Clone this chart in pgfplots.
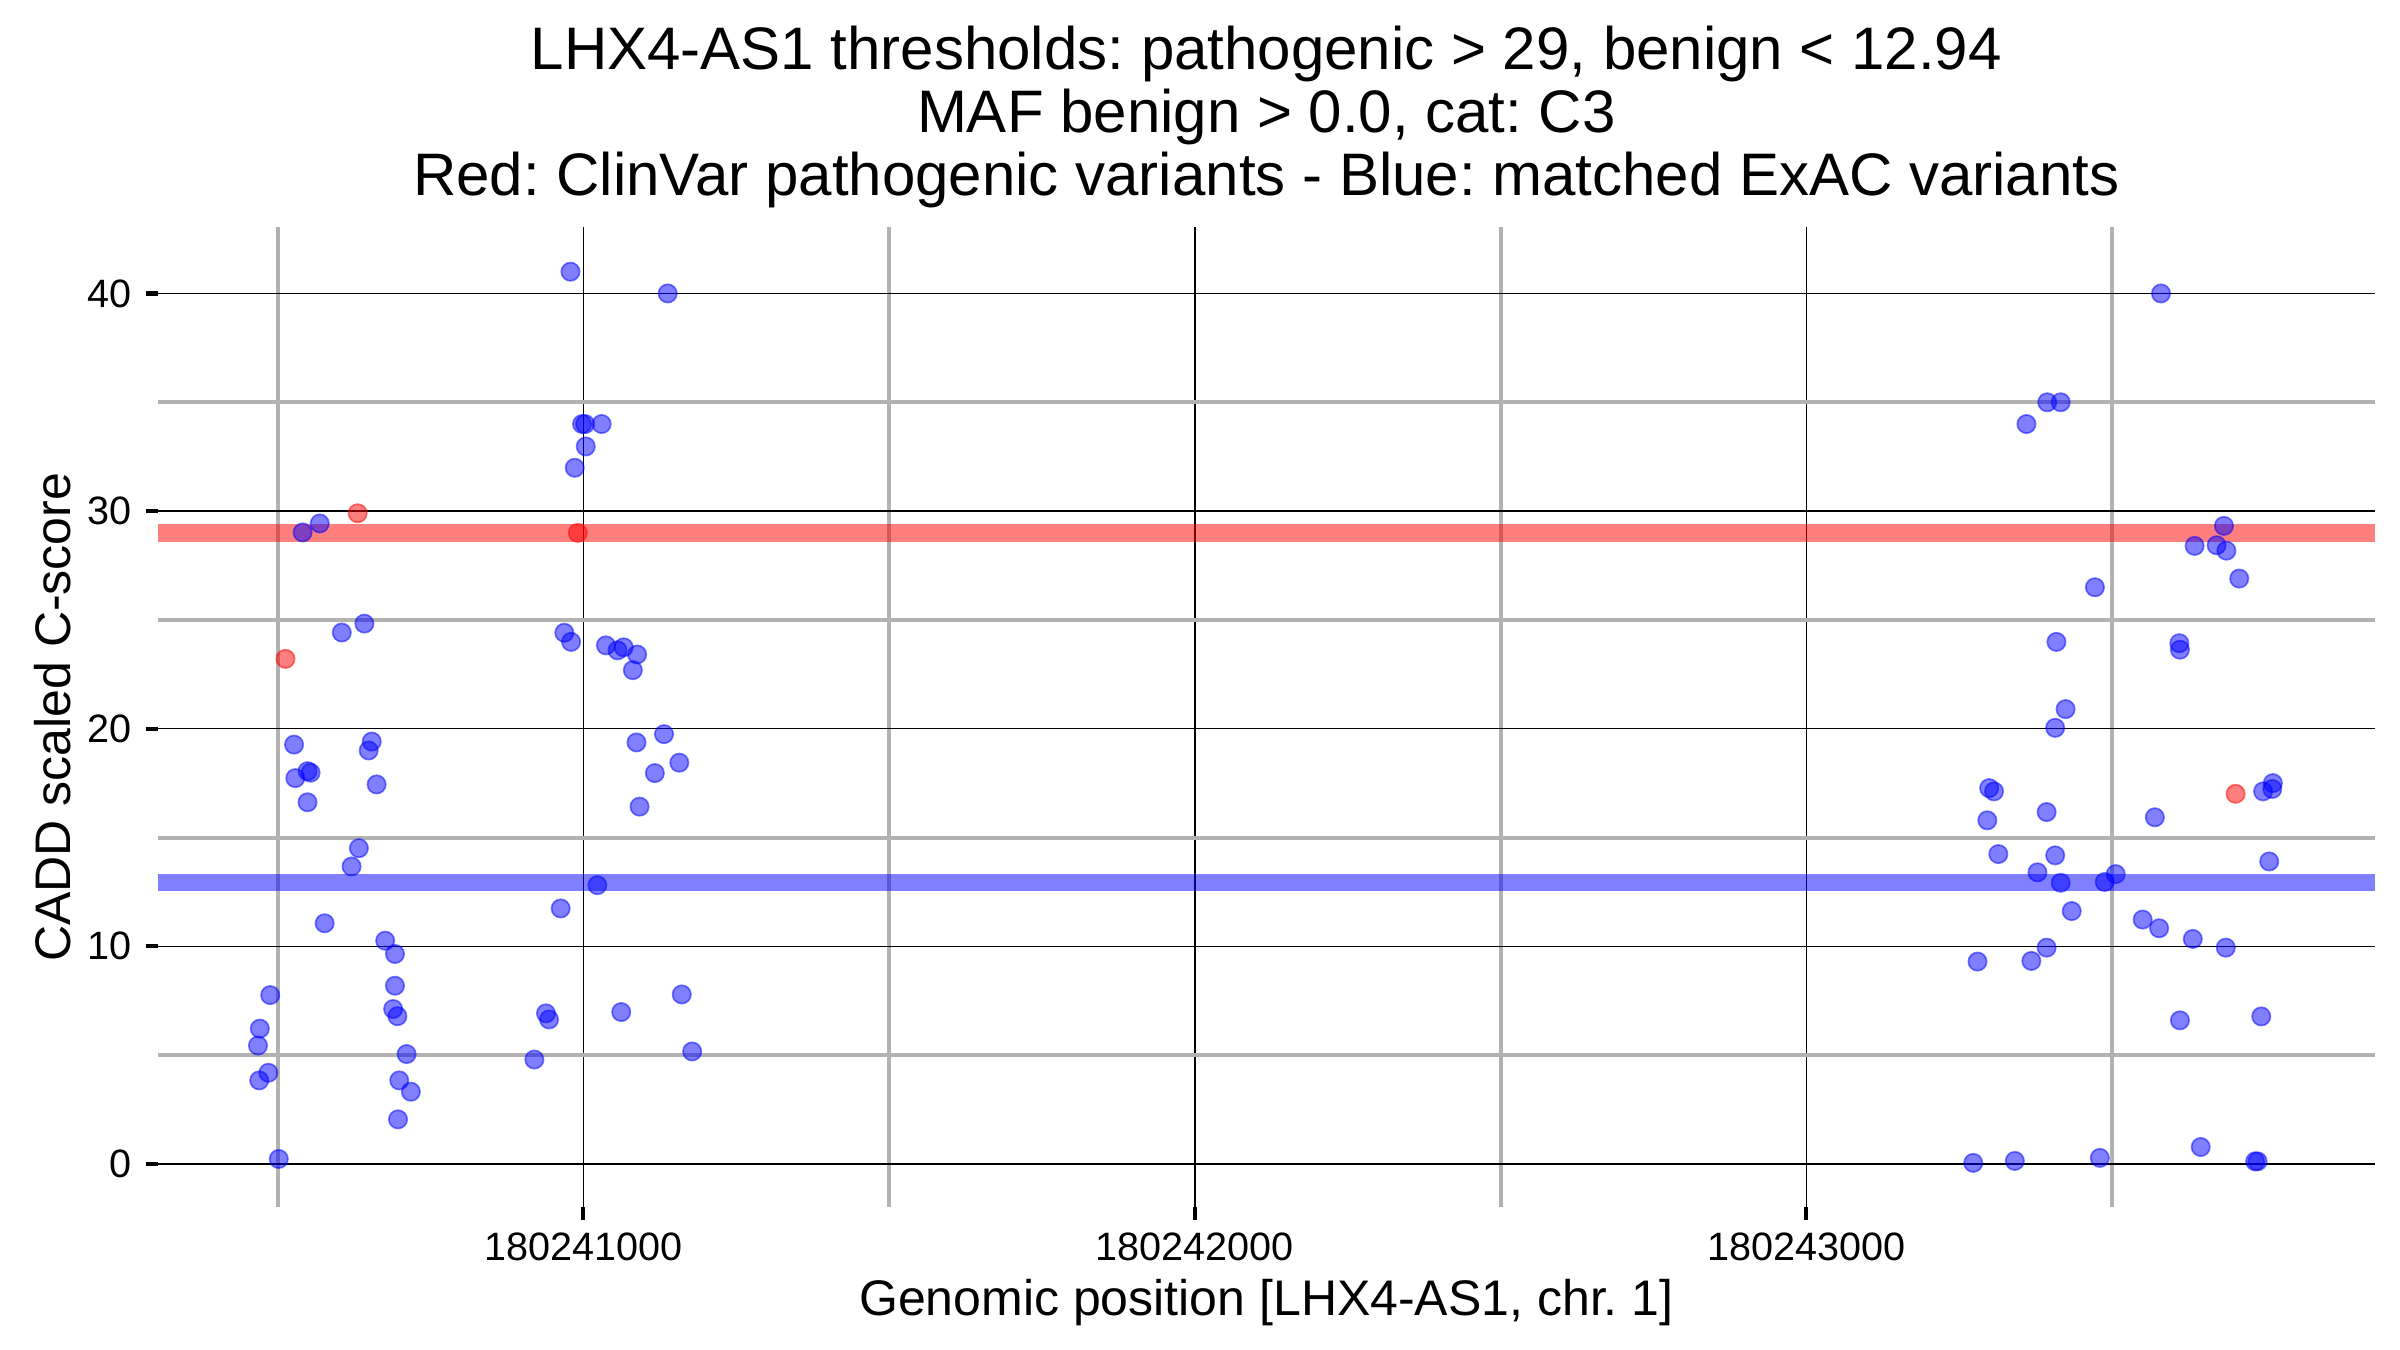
\documentclass[border=0pt]{standalone}
\usepackage{pgfplots}
\pgfplotsset{compat=1.18}
\usepackage{pgfplotstable}
\usepackage{fontspec}
\setmainfont{Liberation Sans}
\frenchspacing

% positions are given as offset from 180240000 (bp), since the full
% positions are too large for pgf's float precision
% matched ExAC variants: position offset, CADD scaled C-score
\pgfplotstableread{
pos cadd
569 29.43
541 29.02
642 24.83
605 24.42
527 19.27
654 19.41
649 19.00
529 17.73
549 18.05
554 17.98
662 17.44
549 16.62
633 14.51
621 13.67
577 11.06
676 10.26
692 9.65
488 7.76
692 8.19
689 7.12
696 6.79
471 6.22
468 5.44
711 5.05
485 4.19
470 3.84
699 3.84
718 3.32
697 2.05
502 0.23
979 41.00
1138 40.00
998 34.00
1003 34.00
1030 34.00
1004 32.97
986 31.99
969 24.41
980 23.99
1037 23.83
1056 23.60
1066 23.74
1088 23.41
1081 22.69
1087 19.37
1132 19.75
1157 18.44
1117 17.96
1092 16.42
1023 12.81
963 11.74
939 6.92
944 6.64
1062 6.98
1161 7.79
920 4.80
1178 5.17
3580 40.00
3394 35.00
3416 35.00
3360 34.00
3683 29.32
3635 28.40
3671 28.43
3687 28.18
3708 26.90
3472 26.50
3409 23.99
3610 23.93
3611 23.63
3424 20.90
3407 20.04
3299 17.27
3307 17.12
3296 15.79
3393 16.17
3570 15.93
3747 17.12
3763 17.50
3762 17.23
3757 13.90
3314 14.24
3407 14.18
3378 13.40
3416 12.92
3488 12.96
3506 13.32
3434 11.62
3550 11.23
3577 10.83
3632 10.34
3686 9.94
3393 9.94
3280 9.30
3368 9.33
3611 6.60
3744 6.78
3273 0.05
3341 0.14
3480 0.28
3645 0.78
3734 0.12
3738 0.12
}\exacdata

% ClinVar pathogenic variants
\pgfplotstableread{
pos cadd
631 29.90
513 23.21
991 29.00
3702 17.01
}\clinvardata

\begin{document}
\begin{tikzpicture}
\useasboundingbox (-37.85pt,-34.2pt) rectangle (538.15pt,289.8pt);
\begin{axis}[
    at={(0,0)}, anchor=south west,
    scale only axis,
    width=532.15pt, height=235.3pt,
    xmin=304, xmax=3930,
    ymin=-2.0, ymax=43.05,
    xtick={1000,2000,3000},
    xticklabels={180241000,180242000,180243000},
    minor xtick={500,1500,2500,3500},
    ytick={0,10,20,30,40},
    minor ytick={5,15,25,35},
    grid=both,
    major grid style={black, line width=0.35pt},
    minor grid style={black!30, line width=0.95pt},
    axis x line*=bottom, axis y line*=left,
    axis line style={draw=none},
    tick align=outside,
    major tick length=2.9pt, minor tick length=0pt,
    tick style={black, line width=1pt},
    xticklabel style={font=\fontsize{9.5}{11}\selectfont, anchor=north, inner sep=0pt, yshift=-3.0pt},
    yticklabel style={font=\fontsize{9.5}{11}\selectfont, anchor=east, inner sep=0pt, xshift=-3.2pt},
    /pgf/number format/assume math mode=true,
    clip=false,
]
\addplot[only marks, mark=*, mark size=2.2pt, mark options={fill=blue, draw=blue, line width=0.4pt, opacity=0.5}]
    table[x=pos, y=cadd] {\exacdata};
\addplot[only marks, mark=*, mark size=2.2pt, mark options={fill=red, draw=red, line width=0.4pt, opacity=0.5}]
    table[x=pos, y=cadd] {\clinvardata};
% thresholds
\addplot[red, line width=4.2pt, draw opacity=0.5] coordinates {(304,29) (3930,29)};
\addplot[blue, line width=4.2pt, draw opacity=0.5] coordinates {(304,12.94) (3930,12.94)};

\node[anchor=base, font=\fontsize{14.4}{17}\selectfont] at ([yshift=37.9pt]rel axis cs:0.5,1) {LHX4-AS1 thresholds: pathogenic > 29, benign < 12.94};
\node[anchor=base, font=\fontsize{14.4}{17}\selectfont] at ([yshift=22.7pt]rel axis cs:0.5,1) {MAF benign > 0.0, cat: C3};
\node[anchor=base, font=\fontsize{14.4}{17}\selectfont] at ([yshift=7.5pt]rel axis cs:0.5,1) {Red: ClinVar pathogenic variants - Blue: matched ExAC variants};
\node[anchor=base, font=\fontsize{12}{14}\selectfont] at ([yshift=-25.9pt]rel axis cs:0.5,0) {Genomic position [LHX4-AS1, chr. 1]};
\node[anchor=base, rotate=90, font=\fontsize{12}{14}\selectfont] at ([xshift=-21pt]rel axis cs:0,0.5) {CADD scaled C-score};
\end{axis}
\end{tikzpicture}
\end{document}
